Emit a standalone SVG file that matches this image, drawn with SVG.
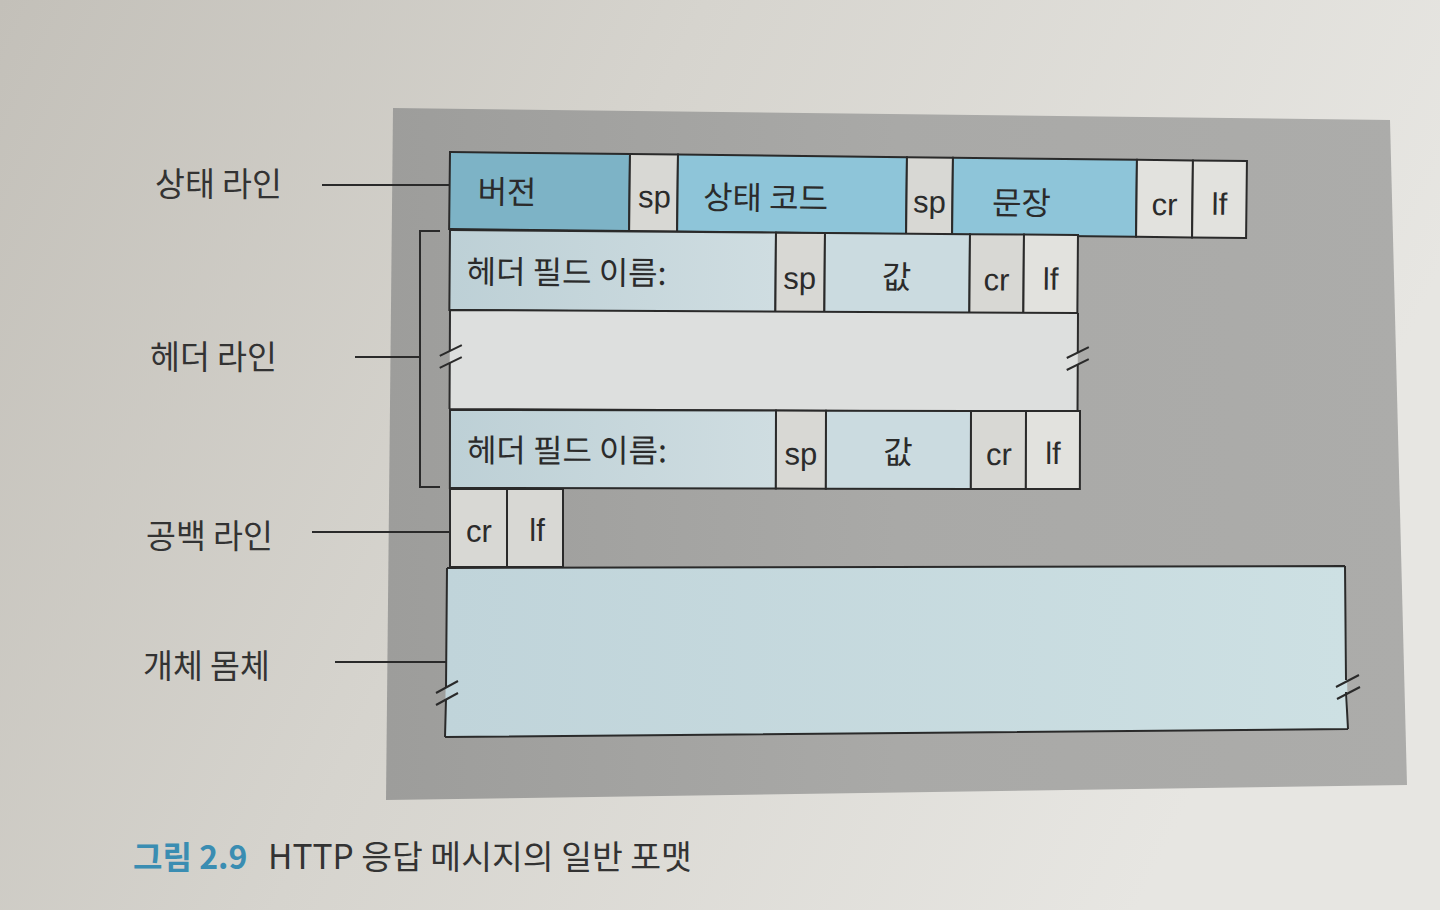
<svg xmlns="http://www.w3.org/2000/svg" width="1440" height="910" viewBox="0 0 1440 910">
<defs>
<linearGradient id="page" x1="0" y1="0" x2="1" y2="0.3">
<stop offset="0" stop-color="#c3c0b9"/>
<stop offset="0.45" stop-color="#d6d4ce"/>
<stop offset="1" stop-color="#e7e6e2"/>
</linearGradient>
<linearGradient id="panel" x1="0" y1="0" x2="1" y2="0">
<stop offset="0" stop-color="#9d9d9b"/>
<stop offset="0.5" stop-color="#a9a9a7"/>
<stop offset="1" stop-color="#acacaa"/>
</linearGradient>
<linearGradient id="hname" x1="0" y1="0" x2="1" y2="0">
<stop offset="0" stop-color="#bdd0d6"/>
<stop offset="1" stop-color="#cfdde1"/>
</linearGradient>
<linearGradient id="body" x1="0" y1="0" x2="1" y2="0">
<stop offset="0" stop-color="#c0d4da"/>
<stop offset="1" stop-color="#cde0e3"/>
</linearGradient>
</defs>
<style>
.cell{stroke:#2a2a2a;stroke-width:2}
.dk{fill:#7db3c6}
.bl{fill:#8ec5d9}
.gr{fill:#d8d8d4}
.wh{fill:#e2e2de}
.hv{fill:#cbdbe0}
.ko{font-family:"Noto Sans CJK KR","Noto Sans",sans-serif;fill:#2b2b2b;font-size:32px}
.la{font-family:"Liberation Sans","DejaVu Sans",sans-serif;fill:#2b2b2b;font-size:31px;text-anchor:middle}
.lbl{font-family:"Noto Sans CJK KR","Noto Sans",sans-serif;fill:#333;font-size:32.5px}
.con{stroke:#2a2a2a;stroke-width:2;fill:none}
.edge{stroke:#2a2a2a;stroke-width:2;fill:none}
</style>
<rect x="0" y="0" width="1440" height="910" fill="url(#page)"/>
<polygon points="393,108 1390,120 1407,785 386,800" fill="url(#panel)"/>

<g id="status-line" transform="rotate(0.65 450 152)">
<rect class="cell dk" x="450" y="152" width="180" height="77"/>
<rect class="cell gr" x="630" y="152" width="48" height="77"/>
<rect class="cell bl" x="678" y="152" width="229" height="77"/>
<rect class="cell gr" x="907" y="152" width="46" height="77"/>
<rect class="cell bl" x="953" y="152" width="184" height="77"/>
<rect class="cell wh" x="1137" y="152" width="56" height="77"/>
<rect class="cell wh" x="1193" y="152" width="54" height="77"/>
<text class="ko" x="478" y="203">버전</text>
<text class="la" x="655" y="205">sp</text>
<text class="ko" x="766" y="206" text-anchor="middle">상태 코드</text>
<text class="la" x="930" y="207">sp</text>
<text class="ko" x="1022" y="208" text-anchor="middle">문장</text>
<text class="la" x="1165" y="207">cr</text>
<text class="la" x="1220" y="206">lf</text>
</g>

<g id="header-line-1" transform="rotate(0.46 450 230)">
<rect class="cell" fill="url(#hname)" x="450" y="230" width="326" height="80"/>
<rect class="cell gr" x="776" y="230" width="49" height="80"/>
<rect class="cell hv" x="825" y="230" width="145" height="80"/>
<rect class="cell gr" x="970" y="230" width="54" height="80"/>
<rect class="cell wh" x="1024" y="230" width="54" height="80"/>
<text class="ko" x="467" y="283">헤더 필드 이름:</text>
<text class="la" x="800" y="286">sp</text>
<text class="ko" x="897" y="285" text-anchor="middle">값</text>
<text class="la" x="997" y="286">cr</text>
<text class="la" x="1051" y="285">lf</text>
</g>

<g id="header-gap" transform="rotate(0.28 450 310)">
<rect x="450" y="310" width="628" height="99" fill="#dddfde"/>
<path class="edge" d="M450,310 H1078 M450,409 H1078 M450,310 V351 M450,363 V409 M1078,310 V349 M1078,361 V409"/>
<path class="edge" d="M440,356 L462,345 M440,368 L462,357 M1067,355 L1089,344 M1067,367 L1089,356"/>
</g>

<g id="header-line-2" transform="rotate(0.1 450 410)">
<rect class="cell" fill="url(#hname)" x="450" y="410" width="326" height="78"/>
<rect class="cell gr" x="776" y="410" width="50" height="78"/>
<rect class="cell hv" x="826" y="410" width="145" height="78"/>
<rect class="cell gr" x="971" y="410" width="55" height="78"/>
<rect class="cell wh" x="1026" y="410" width="54" height="78"/>
<text class="ko" x="467" y="462">헤더 필드 이름:</text>
<text class="la" x="801" y="464">sp</text>
<text class="ko" x="898" y="463" text-anchor="middle">값</text>
<text class="la" x="999" y="464">cr</text>
<text class="la" x="1053" y="463">lf</text>
</g>

<g id="blank-line">
<rect class="cell gr" x="450" y="489" width="57" height="78"/>
<rect class="cell gr" x="507" y="489" width="56" height="78"/>
<text class="la" x="479" y="542">cr</text>
<text class="la" x="537" y="541">lf</text>
</g>

<g id="entity-body">
<polygon points="447,568 1345,566 1348,729 445,737" fill="url(#body)"/>
<path class="edge" d="M447,568 L1345,566 M445,737 L1348,729 M447,568 L446,687 M446,699 L445,737 M1345,566 L1346,680 M1346,692 L1348,729"/>
<path class="edge" d="M436,693 L458,681 M436,705 L458,693 M1336,687 L1359,675 M1337,699 L1360,687"/>
</g>

<g id="labels">
<text class="lbl" x="155" y="196">상태 라인</text>
<text class="lbl" x="150" y="369">헤더 라인</text>
<text class="lbl" x="146" y="548">공백 라인</text>
<text class="lbl" x="143" y="678">개체 몸체</text>
</g>

<g id="connectors">
<path class="con" d="M322,185 H450"/>
<path class="con" d="M440,231 H420 V487 H440"/>
<path class="con" d="M355,357 H420"/>
<path class="con" d="M312,532 H449"/>
<path class="con" d="M335,662 H446"/>
</g>

<g id="caption">
<text x="133" y="869" font-family="Noto Sans CJK KR, Noto Sans, sans-serif" font-size="32" font-weight="bold" fill="#3a8db2">그림 2.9</text>
<text x="268" y="869" font-family="Noto Sans CJK KR, Noto Sans, sans-serif" font-size="33.5" fill="#333">HTTP 응답 메시지의 일반 포맷</text>
</g>
</svg>
